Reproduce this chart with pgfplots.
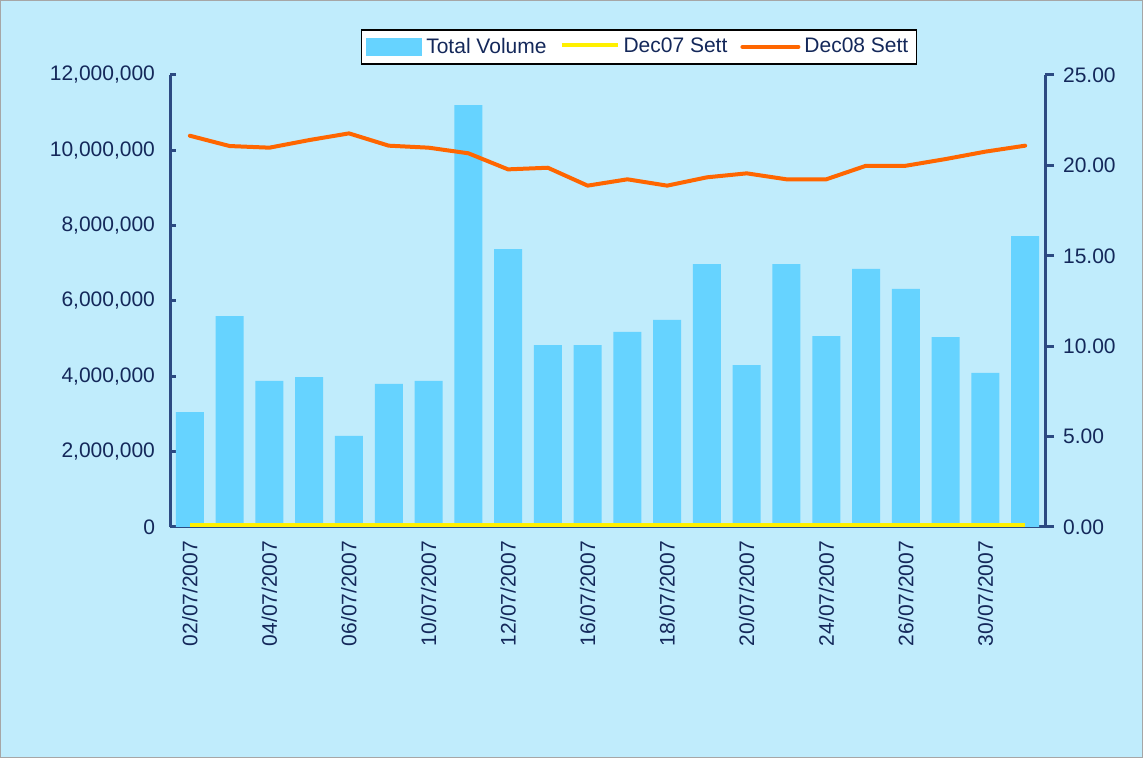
\documentclass[border=0pt]{standalone}
\usepackage{pgfplots}
\pgfplotsset{compat=1.18}
\usepackage{fontspec}
\setmainfont{Liberation Sans}
\definecolor{bg}{RGB}{192,236,252}
\definecolor{barc}{RGB}{102,211,255}
\definecolor{axc}{RGB}{44,74,130}
\definecolor{txt}{RGB}{20,40,90}
\definecolor{org}{RGB}{255,102,0}
\definecolor{yel}{RGB}{255,240,0}
\begin{document}
\begin{tikzpicture}[x=1pt,y=1pt]
\fill[bg] (0,0) rectangle (571.5,379);
\draw[gray!70, line width=0.5pt] (0.25,0.25) rectangle (571.25,378.75);
\pgfplotsset{common/.style={scale only axis, width=437.5pt, height=226pt,
  at={(85pt,115.5pt)}, anchor=south west, xmin=-0.5, xmax=21.5,
  font=\fontsize{10.5}{12.5}\selectfont,
  /pgf/number format/assume math mode=true,
  tick label style={text=txt},
  axis line style={axc, line width=1.5pt},
  tick style={axc, line width=1.5pt}}}
\begin{axis}[common,
  axis x line*=bottom, axis y line*=left,
  ymin=0, ymax=12000000,
  ytick={0,2000000,4000000,6000000,8000000,10000000,12000000},
  scaled y ticks=false,
  yticklabel style={/pgf/number format/.cd, fixed, precision=0, 1000 sep={,}},
  yticklabel shift=4pt,
  tick align=inside, major tick length=3pt,
  xtick={0,2,4,6,8,10,12,14,16,18,20},
  xticklabels={02/07/2007,04/07/2007,06/07/2007,10/07/2007,12/07/2007,16/07/2007,18/07/2007,20/07/2007,24/07/2007,26/07/2007,30/07/2007},
  xticklabel style={rotate=90, anchor=east},
  xticklabel shift=0.5pt,
  x tick style={draw=none},
  extra x ticks={1.5,3.5,5.5,7.5,9.5,11.5,13.5,15.5,17.5,19.5},
  extra x tick labels={},
  extra x tick style={tick style={axc, line width=1pt}, major tick length=2pt},
  ybar, bar width=14pt]
\addplot[fill=barc, draw=none] coordinates {
(0,3050000) (1,5600000) (2,3880000) (3,3980000) (4,2420000) (5,3800000)
(6,3880000) (7,11200000) (8,7380000) (9,4830000) (10,4830000) (11,5180000)
(12,5500000) (13,6980000) (14,4300000) (15,6980000) (16,5070000) (17,6850000)
(18,6320000) (19,5040000) (20,4090000) (21,7720000)};
\end{axis}
\begin{axis}[common,
  hide x axis, axis y line*=right,
  ymin=0, ymax=25, ytick={0,5,10,15,20,25},
  tick align=outside, major tick length=4.5pt,
  yticklabel style={/pgf/number format/.cd, fixed, fixed zerofill, precision=2},
  yticklabel shift=1pt,
  clip=false,
  legend columns=3,
  legend style={at={(0.536,1.062)}, anchor=center, draw=black, line width=0.8pt,
    fill=white, font=\fontsize{10.5}{12.5}\selectfont, text=txt,
    inner sep=2pt,
    /tikz/every even column/.append style={column sep=4.5pt}},
  ]
\addlegendimage{legend image code/.code={\fill[barc] (0pt,-4pt) rectangle (27.5pt,4pt);}}
\addlegendentry{Total Volume}
\addplot[yel, line width=2pt, yshift=1pt, legend image code/.code={\draw[yel, line width=2pt] (0pt,0pt) -- (28pt,0pt);}] coordinates {
(0,0) (1,0) (2,0) (3,0) (4,0) (5,0) (6,0) (7,0) (8,0) (9,0) (10,0)
(11,0) (12,0) (13,0) (14,0) (15,0) (16,0) (17,0) (18,0) (19,0) (20,0) (21,0)};
\addlegendentry{Dec07 Sett}
\addplot[org, line width=2pt, line join=round, line cap=round, legend image code/.code={\draw[org, line width=2pt, line cap=round] (0pt,0pt) -- (28pt,0pt);}] coordinates {
(0,21.64) (1,21.07) (2,20.98) (3,21.40) (4,21.77) (5,21.09) (6,20.98) (7,20.67)
(8,19.78) (9,19.87) (10,18.88) (11,19.23) (12,18.88) (13,19.34) (14,19.56)
(15,19.23) (16,19.23) (17,19.98) (18,19.98) (19,20.35) (20,20.76) (21,21.09)};
\addlegendentry{Dec08 Sett}
\end{axis}
\end{tikzpicture}
\end{document}
